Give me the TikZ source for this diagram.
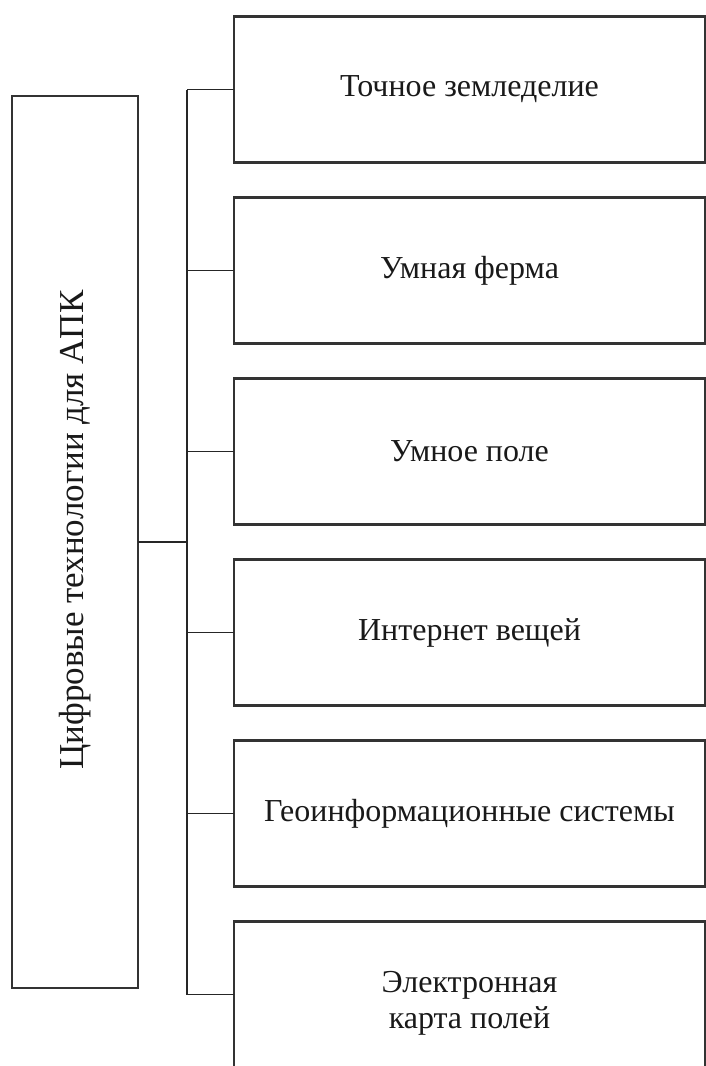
\documentclass[tikz,border=0pt]{standalone}
\usepackage{fontspec}
\setmainfont{Liberation Serif}
\usetikzlibrary{positioning}
\tikzset{
thick,
node distance=35pt,
every node/.style={font=\fontsize{32}{36}\selectfont, text=black!90},
leftbox/.style={draw=black!80, line width=2.4pt, outer sep=0pt, minimum width=126pt, minimum height=892pt},
itembox/.style={draw=black!80, line width=2.4pt, outer sep=0pt, minimum width=471pt, minimum height=146pt, align=center},
link/.style={draw=black!85, line width=1.6pt},
}

\begin{document}
\begin{tikzpicture}[x=1pt,y=1pt]
        \useasboundingbox (0,0) rectangle (705,-1066);
        \node[leftbox] (apk) at (75,-542) {};
        \node[rotate=90, font=\fontsize{35}{40}\selectfont] (apktext) at ([yshift=12pt]apk.center) {Цифровые технологии для АПК};

        \node[itembox] (t1) at (469.5,-89.5) {Точное земледелие};
        \node[itembox,below=of t1] (t2) {Умная ферма};
        \node[itembox,below=of t2] (t3) {Умное поле};
        \node[itembox,below=of t3] (t4) {Интернет вещей};
        \node[itembox,below=of t4] (t5) {Геоинформационные системы};
        \node[itembox,below=of t5] (t6) {};
        \node[align=center] (t6text) at ([yshift=-9pt]t6.center) {Электронная\\карта полей};

        \coordinate (bus) at (187,-541);
        \draw[link] (apk.east) -- (apk.east -| bus);
        \draw[link] (t1.west -| bus) -- (t6.west -| bus);
        \foreach \i in {1,...,6}
            \draw[link] (t\i.west -| bus) -- (t\i.west);
    \end{tikzpicture}
\end{document}
